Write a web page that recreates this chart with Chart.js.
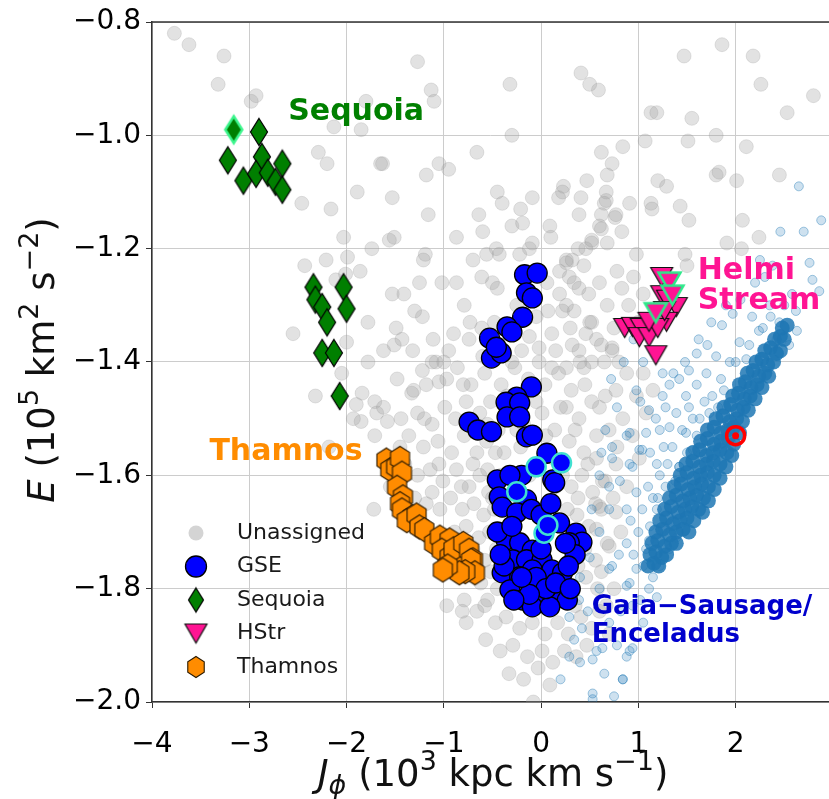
<!DOCTYPE html>
<html>
<head>
<meta charset="utf-8">
<script src="https://cdn.jsdelivr.net/npm/chart.js@4.4.0/dist/chart.umd.min.js"></script>
<style>
  html, body { margin: 0; padding: 0; background: #fff; overflow: hidden; }
  #wrap { width: 829px; height: 799px; }
</style>
</head>
<body>
<div id="wrap"><canvas id="chart" width="829" height="799"></canvas></div>
<script>
// tick values
const xTicks = [-4, -3, -2, -1, 0, 1, 2];
const yTicks = [-2.0, -1.8, -1.6, -1.4, -1.2, -1.0, -0.8];

const legendLabels = ['Unassigned', 'GSE', 'Sequoia', 'HStr', 'Thamnos'];

// grey background stars (Jphi, E)
const unassigned = [
  [-3.77,-0.82],[-3.62,-0.84],[-3.26,-0.86],[-3.32,-0.91],[-2.98,-0.94],[-2.93,-0.93],
  [-1.27,-0.87],[-1.13,-0.92],[-0.32,-0.91],[0.41,-0.89],[0.59,-0.92],[1.47,-0.86],[1.86,-0.84],[2.18,-0.86],[2.80,-0.93],
  [0.50,-0.91],[2.26,-0.91],[1.13,-0.96],[1.19,-0.96],[1.55,-0.97],[1.80,-1.00],[1.51,-1.01],[2.53,-0.96],[1.07,-1.01],
  [0.84,-1.02],[0.62,-1.03],[2.11,-1.02],[0.73,-1.05],[0.47,-1.08],[0.68,-1.07],[0.23,-1.09],[1.20,-1.08],[1.29,-1.09],
  [1.80,-1.07],[1.83,-1.065],[2.01,-1.08],[2.45,-1.07],[0.41,-1.11],[0.67,-1.10],[0.65,-1.12],[0.91,-1.12],[1.13,-1.12],
  [1.14,-1.13],[1.43,-1.125],[0.39,-1.14],[0.62,-1.14],[0.76,-1.145],[1.52,-1.15],[2.07,-1.15],[0.60,-1.16],[0.83,-1.17],
  [2.24,-1.18],[0.38,-1.20],[0.52,-1.19],[0.68,-1.19],[0.98,-1.21],[1.91,-1.19],[2.06,-1.20],[1.48,-1.21],[1.50,-1.23],
  [0.26,-1.22],[0.44,-1.23],[0.78,-1.24],
  [-2.29,-1.03],[-2.20,-1.05],[-1.63,-1.05],[-1.05,-1.05],[-0.95,-1.06],[-1.18,-1.07],[-0.66,-1.03],[-0.30,-1.00],
  [-1.89,-1.10],[-1.53,-1.11],[-2.46,-1.12],[-2.16,-1.13],[-1.16,-1.14],[-0.45,-1.10],[-0.40,-1.12],[-0.21,-1.13],
  [-0.09,-1.11],[-0.64,-1.14],[-0.30,-1.16],[-0.19,-1.155],[0.22,-1.10],[0.18,-1.11],[0.67,-1.115],[0.77,-1.14],
  [0.62,-1.165],[0.09,-1.16],[0.10,-1.18],[-2.03,-1.18],[-1.74,-1.20],[-1.56,-1.185],[-1.51,-1.18],[-0.87,-1.18],
  [-0.60,-1.17],[-2.21,-1.22],[-2.43,-1.23],[-1.99,-1.215],[-1.86,-1.24],[-2.11,-1.255],[-2.01,-1.245],[-1.19,-1.21],
  [-1.21,-1.22],[-1.25,-1.26],[-1.02,-1.26],[-0.87,-1.26],[-0.70,-1.22],[-0.56,-1.21],[-0.46,-1.20],[-0.43,-1.21],
  [-0.22,-1.21],[-0.12,-1.20],[-0.09,-1.19],[-0.61,-1.25],[-0.50,-1.26],[-0.45,-1.27],[-1.53,-1.28],[-1.41,-1.28],
  [-1.78,-1.33],[-1.49,-1.34],[-1.30,-1.31],[-1.22,-1.32],[-1.43,-1.36],[-1.51,-1.37],[-1.11,-1.36],[-2.00,-1.365],
  [-0.79,-1.30],[-0.73,-1.33],[-0.61,-1.34],[-0.74,-1.36],[-1.32,-1.38],[-0.95,-1.38],[-1.08,-1.40],
  [0.26,-1.225],[0.32,-1.22],[0.19,-1.24],[0.29,-1.25],[0.34,-1.26],[0.19,-1.28],[0.39,-1.27],[0.49,-1.28],[0.60,-1.26],
  [0.46,-1.20],[0.52,-1.185],[0.83,-1.27],[0.06,-1.26],[0.07,-1.31],[0.22,-1.31],[0.34,-1.31],[0.26,-1.30],[0.52,-1.33],
  [0.46,-1.35],[0.11,-1.35],[0.32,-1.37],[0.39,-1.38],[0.73,-1.375],[0.80,-1.40],[0.52,-1.40],[-0.02,-1.40],[0.11,-1.41],
  [0.26,-1.41],[-0.30,-1.40],[-0.02,-1.375],[-0.12,-1.355],
  [-2.13,-0.985],[-1.85,-0.99],[-1.80,-0.94],[-1.10,-0.94],[-1.65,-1.05],[-2.55,-1.35],
  [-1.84,-1.455],[-1.90,-1.475],[-1.71,-1.47],[-1.69,-1.49],[-1.33,-1.455],[-1.22,-1.415],[-1.12,-1.40],[-1.05,-1.435],
  [-1.85,-1.505],[-1.58,-1.505],
  [0.57,-1.36],[0.73,-1.38],[0.88,-1.42],[0.77,-1.45],[0.98,-1.46],[0.60,-1.48],[0.84,-1.50],[1.08,-1.49],[0.70,-1.52],
  [0.94,-1.53],[0.57,-1.57],[0.77,-1.58],[1.01,-1.57],[0.63,-1.61],[0.88,-1.62],[0.60,-1.655],[0.77,-1.665],[0.57,-1.695],
  [0.70,-1.725],
  [0.95,-1.25],[1.05,-1.28],[0.90,-1.30],[1.00,-1.33],[0.68,-1.30],[0.75,-1.34],[0.62,-1.37],[1.05,-1.42],[1.15,-1.45],[0.50,-1.33],
  [-1.48,-1.43],[-1.31,-1.45],[-1.18,-1.44],[-0.97,-1.43],[-0.86,-1.41],[-0.72,-1.44],[-0.58,-1.42],[-0.41,-1.44],
  [-0.27,-1.41],[-0.13,-1.43],[0.04,-1.44],[0.18,-1.42],[0.31,-1.45],[0.44,-1.41],
  [-1.62,-1.48],[-1.44,-1.50],[-1.27,-1.49],[-1.12,-1.51],[-0.99,-1.48],[-0.88,-1.50],[-0.77,-1.47],[-0.63,-1.49],
  [-0.52,-1.47],[-0.44,-1.52],[-0.31,-1.48],[-0.18,-1.51],[0.01,-1.49],[0.14,-1.52],[0.26,-1.48],[0.39,-1.50],[0.52,-1.47],
  [-1.71,-1.53],[-1.36,-1.53],[-1.21,-1.55],[-1.06,-1.54],[-0.92,-1.56],[-0.79,-1.53],[-0.66,-1.56],[-0.56,-1.54],
  [-0.38,-1.56],[-0.21,-1.55],[0.13,-1.57],[0.29,-1.54],[0.44,-1.56],[0.57,-1.53],
  [-1.27,-1.60],[-1.14,-1.59],[-1.01,-1.61],[-0.87,-1.59],[-0.74,-1.62],[-0.63,-1.60],[-0.54,-1.63],[-0.41,-1.60],
  [0.31,-1.62],[0.42,-1.60],[0.53,-1.63],[0.66,-1.61],
  [-1.18,-1.65],[-1.04,-1.66],[-0.93,-1.64],[-0.81,-1.66],[-0.69,-1.65],[-0.59,-1.67],[-0.48,-1.66],[0.37,-1.67],
  [0.49,-1.69],[0.62,-1.66],[0.74,-1.64],
  [-0.89,-1.70],[-0.77,-1.69],[-0.64,-1.71],[-0.53,-1.70],[-0.46,-1.73],[0.45,-1.73],[0.56,-1.75],[0.68,-1.72],
  [-0.84,-1.78],[-0.71,-1.76],[-0.62,-1.79],[-0.52,-1.77],[0.46,-1.78],[0.58,-1.80],[0.67,-1.83],
  [-0.79,-1.82],[-0.66,-1.84],[-0.55,-1.82],[-0.47,-1.86],[-0.36,-1.85],[-0.22,-1.87],[-0.09,-1.86],[0.04,-1.88],
  [0.17,-1.86],[0.28,-1.88],[0.41,-1.85],[0.52,-1.87],
  [-0.57,-1.89],[-0.42,-1.91],[-0.29,-1.90],[-0.14,-1.92],[0.01,-1.91],[0.12,-1.93],[0.24,-1.91],[0.36,-1.92],
  [-0.33,-1.95],[-0.18,-1.96],[-0.03,-1.94],[0.09,-1.97],[-0.08,-2.00],
  [-2.05,-1.42],[-2.32,-1.46],[-1.93,-1.50],[-2.18,-1.55],[-1.78,-1.40],[-1.62,-1.38],[-1.55,-1.62],[-1.72,-1.66],
  [-0.97,-1.83],[-0.81,-1.84],[-0.77,-1.86],[-0.58,-1.83],
  [-1.40,-1.58],[-1.05,-1.58],[-0.70,-1.58],[-0.47,-1.56],[-0.12,-1.60],[0.22,-1.60],[0.48,-1.58],[0.78,-1.55],
  [-1.12,-1.63],[-0.82,-1.62],[-0.50,-1.64],[0.27,-1.66],[0.56,-1.65],[0.82,-1.70],
  [-0.97,-1.72],[-0.70,-1.73],[-0.58,-1.75],[0.38,-1.76],[0.62,-1.77],[0.75,-1.80],
  [-0.90,-1.76],[-0.45,-1.80],[0.35,-1.83],[0.60,-1.84],[0.70,-1.88],[0.47,-1.90],
  [-1.20,-1.50],[-0.80,-1.44],[-0.35,-1.46],[-0.05,-1.47],[0.20,-1.48],[0.45,-1.44],[0.66,-1.46],
  [-1.00,-1.40],[-0.60,-1.39],[-0.20,-1.38],[0.15,-1.38],[0.40,-1.40],[0.65,-1.40],
  [-0.90,-1.35],[-0.48,-1.33],[-0.25,-1.30],[-0.05,-1.32],[0.30,-1.34],
  [-1.45,-1.55],[-1.30,-1.64],[-0.55,-1.51],[0.05,-1.53],[0.35,-1.52],
  [-0.25,-1.52],[-0.55,-1.59],[0.38,-1.64],[0.15,-1.62]
];

// blue halo: sparse outskirts
const haloSparse = [
  [2.65,-1.09],[2.88,-1.15],[2.76,-1.225],[2.86,-1.275],[2.63,-1.345],[2.55,-1.37],[2.17,-1.32],[1.97,-1.315],
  [1.86,-1.335],[2.24,-1.345],[2.42,-1.36],[1.71,-1.37],[1.80,-1.39],[1.60,-1.385],[2.04,-1.365],[1.94,-1.40],
  [2.11,-1.395],[1.70,-1.42],[1.52,-1.415],[1.42,-1.43],[1.32,-1.44],[1.25,-1.46],[1.49,-1.46],[1.76,-1.46],
  [1.11,-1.485],[1.39,-1.49],[1.63,-1.50],[0.91,-1.525],[1.22,-1.52],[1.49,-1.525],[0.73,-1.55],[1.04,-1.555],
  [1.35,-1.55],[0.91,-1.58],[1.19,-1.58],[1.42,-1.585],[2.62,-1.31],[2.79,-1.255],[2.50,-1.30],[2.58,-1.28],
  [2.35,-1.30],[2.30,-1.25],[2.20,-1.26],
  [0.88,-1.53],[1.01,-1.555],[0.81,-1.61],[0.98,-1.63],[1.19,-1.66],[0.70,-1.66],[0.60,-1.70],[0.88,-1.72],
  [1.11,-1.715],[1.32,-1.73],[0.50,-1.745],[0.73,-1.76],[0.98,-1.765],[1.22,-1.76],[0.60,-1.80],[0.88,-1.795],
  [1.11,-1.80],[0.39,-1.82],[0.29,-1.85],[0.42,-1.87],[0.34,-1.89],[0.63,-1.905],[0.29,-1.92],[0.53,-1.925],
  [0.88,-1.92],[0.84,-1.96],[0.53,-1.985],[0.91,-1.91],[1.04,-1.66],[1.25,-1.695],[1.39,-1.71],[1.08,-1.73],
  [1.32,-1.685],[1.42,-1.645],[1.22,-1.60],[1.42,-1.585],[1.56,-1.555],[1.08,-1.525],[1.32,-1.515],[1.56,-1.50],
  [1.73,-1.49],[0.94,-1.585],[0.73,-1.57],[0.70,-1.62],[0.88,-1.66],
  [1.19,-1.815],[0.91,-1.79],[0.70,-1.765],[0.94,-1.83],[0.57,-1.91],[0.94,-1.905],[0.53,-1.995],[0.84,-1.96],
  [0.45,-1.72],[0.52,-1.66],[0.40,-1.78],[0.33,-1.82],[0.48,-1.84],[0.60,-1.60],[0.66,-1.52],[0.78,-1.48],
  [0.72,-1.43],[0.85,-1.40],[0.95,-1.36],[1.05,-1.40],[1.15,-1.38],[1.25,-1.42],[0.98,-1.45],[0.62,-1.56],
  [1.60,-1.44],[1.85,-1.43],[1.52,-1.48],[1.30,-1.58],[1.15,-1.64],[1.00,-1.70],[1.05,-1.76],[1.28,-1.62],
  [1.02,-1.47],[1.18,-1.50],[1.28,-1.48],[1.45,-1.52],[1.60,-1.53],[1.12,-1.56],[1.26,-1.55],[1.38,-1.61],[1.50,-1.56],
  [1.10,-1.62],[1.20,-1.64],[0.92,-1.68],[1.12,-1.69],[0.80,-1.74],[0.95,-1.74],[1.15,-1.78],[1.02,-1.82],[0.82,-1.84],
  [0.70,-1.86],[0.78,-1.90],[1.05,-1.86],[0.65,-1.95],[0.75,-1.99],[0.40,-1.93],[0.20,-1.96],[1.36,-1.42],[1.48,-1.40],
  [1.62,-1.36],[1.75,-1.33],[1.90,-1.30],[2.05,-1.29],[2.38,-1.23],[2.46,-1.17],[2.70,-1.17],[2.25,-1.22],[1.68,-1.47],
  [1.82,-1.48],[1.88,-1.45],[2.00,-1.40],[2.14,-1.37],[2.28,-1.34],[2.36,-1.32],[2.45,-1.33]
];

// blue halo: dense core along the band
const haloCore = [
  [1.10,-1.76],[1.16,-1.755],[1.21,-1.76],
  [1.12,-1.74],[1.18,-1.735],[1.24,-1.745],[1.29,-1.74],
  [1.14,-1.72],[1.20,-1.715],[1.27,-1.725],[1.34,-1.72],[1.39,-1.72],
  [1.18,-1.70],[1.25,-1.695],[1.32,-1.705],[1.39,-1.70],[1.46,-1.695],[1.52,-1.70],
  [1.22,-1.68],[1.29,-1.675],[1.36,-1.685],[1.43,-1.68],[1.50,-1.675],[1.57,-1.68],
  [1.27,-1.66],[1.34,-1.655],[1.41,-1.665],[1.48,-1.66],[1.55,-1.655],[1.62,-1.66],[1.66,-1.665],
  [1.32,-1.64],[1.39,-1.635],[1.46,-1.645],[1.53,-1.64],[1.60,-1.635],[1.67,-1.64],[1.72,-1.645],
  [1.37,-1.62],[1.44,-1.615],[1.51,-1.625],[1.58,-1.62],[1.65,-1.615],[1.72,-1.62],[1.78,-1.625],
  [1.43,-1.60],[1.50,-1.595],[1.57,-1.605],[1.64,-1.60],[1.71,-1.595],[1.78,-1.60],[1.84,-1.605],
  [1.49,-1.58],[1.56,-1.575],[1.63,-1.585],[1.70,-1.58],[1.77,-1.575],[1.84,-1.58],[1.90,-1.585],
  [1.56,-1.56],[1.63,-1.555],[1.70,-1.565],[1.77,-1.56],[1.84,-1.555],[1.91,-1.56],[1.96,-1.565],
  [1.64,-1.54],[1.71,-1.535],[1.78,-1.545],[1.85,-1.54],[1.92,-1.535],[1.98,-1.545],
  [1.71,-1.52],[1.78,-1.515],[1.85,-1.525],[1.92,-1.52],[1.98,-1.515],[2.04,-1.525],
  [1.80,-1.50],[1.87,-1.495],[1.94,-1.505],[2.01,-1.50],[2.07,-1.505],
  [1.88,-1.48],[1.95,-1.475],[2.02,-1.485],[2.08,-1.48],[2.13,-1.485],
  [1.97,-1.46],[2.03,-1.455],[2.09,-1.465],[2.15,-1.46],[2.20,-1.465],
  [2.04,-1.44],[2.10,-1.435],[2.16,-1.445],[2.22,-1.44],[2.27,-1.445],
  [2.12,-1.42],[2.18,-1.415],[2.24,-1.425],[2.30,-1.42],[2.34,-1.425],
  [2.21,-1.40],[2.27,-1.395],[2.33,-1.405],[2.39,-1.40],
  [2.30,-1.38],[2.36,-1.375],[2.42,-1.385],[2.46,-1.38],
  [2.40,-1.36],[2.46,-1.355],[2.50,-1.36],
  [2.48,-1.34],[2.53,-1.335]
];

const gse = [
  [-0.17,-1.246],[-0.04,-1.243],[-0.15,-1.278],[-0.09,-1.287],[-0.19,-1.321],[-0.35,-1.338],[-0.30,-1.347],
  [-0.53,-1.358],[-0.51,-1.393],[-0.41,-1.384],[-0.46,-1.374],
  [-0.10,-1.444],[-0.25,-1.462],[-0.36,-1.471],[-0.22,-1.472],[-0.35,-1.497],[-0.22,-1.497],
  [-0.74,-1.506],[-0.65,-1.520],[-0.51,-1.523],[-0.15,-1.532],[-0.09,-1.529],
  [0.06,-1.561],[0.12,-1.608],[0.14,-1.613],
  [-0.45,-1.608],[-0.43,-1.638],[-0.40,-1.656],[-0.15,-1.643],[-0.25,-1.666],
  [0.19,-1.684],[0.36,-1.702],[0.42,-1.718],[0.29,-1.719],
  [-0.36,-1.714],[-0.22,-1.719],[-0.09,-1.732],[-0.29,-1.749],[-0.15,-1.749],[0.01,-1.749],
  [-0.40,-1.772],[-0.22,-1.779],[-0.09,-1.767],[0.11,-1.767],[0.22,-1.772],
  [-0.32,-1.802],[-0.19,-1.820],[-0.02,-1.808],[0.19,-1.815],[0.27,-1.820],[-0.09,-1.832],[0.09,-1.832],
  [-0.45,-1.70],[-0.38,-1.76],[-0.30,-1.69],[-0.05,-1.78],[0.05,-1.80],[0.15,-1.79],[-0.12,-1.81],[-0.28,-1.82],
  [0.30,-1.80],[0.35,-1.74],[0.25,-1.72],[-0.20,-1.60],[-0.32,-1.60],[-0.10,-1.66],[0.00,-1.67],[0.10,-1.65],
  [-0.42,-1.74],[0.28,-1.76],[-0.20,-1.78],[0.00,-1.73]
];
const gseMarked = [[-0.05,-1.585],[0.21,-1.578],[-0.25,-1.629],[0.03,-1.702],[0.07,-1.688]];

const sequoia = [
  [-2.90,-0.994],[-3.22,-1.044],[-3.06,-1.08],[-2.87,-1.038],[-2.93,-1.068],[-2.81,-1.066],[-2.73,-1.082],
  [-2.66,-1.05],[-2.66,-1.096],[-2.34,-1.268],[-2.32,-1.29],[-2.25,-1.303],[-2.20,-1.33],[-2.03,-1.268],
  [-2.00,-1.306],[-2.25,-1.384],[-2.13,-1.384],[-2.07,-1.46]
];
const sequoiaMarked = [[-3.16,-0.99]];

const hstr = [
  [1.24,-1.25],[1.39,-1.303],[1.29,-1.329],[0.86,-1.34],[0.94,-1.338],[1.03,-1.34],[1.01,-1.356],[1.11,-1.356],
  [1.18,-1.388],[1.24,-1.282],[1.20,-1.34],[1.11,-1.329],[1.30,-1.29],[1.27,-1.31]
];
const hstrMarked = [[1.32,-1.259],[1.35,-1.282],[1.18,-1.313]];

const thamnos = [
  [-1.59,-1.573],[-1.55,-1.59],[-1.49,-1.585],[-1.45,-1.57],[-1.43,-1.596],[-1.48,-1.621],[-1.42,-1.638],
  [-1.45,-1.65],[-1.43,-1.661],[-1.32,-1.673],[-1.38,-1.68],[-1.28,-1.67],[-1.25,-1.691],[-1.20,-1.696],
  [-1.10,-1.72],[-1.04,-1.709],[-0.94,-1.714],[-1.02,-1.732],[-0.94,-1.744],[-0.87,-1.755],[-0.90,-1.73],
  [-0.80,-1.72],[-0.74,-1.732],[-0.70,-1.749],[-0.72,-1.75],[-0.68,-1.772],[-0.78,-1.77],[-0.84,-1.772],
  [-0.96,-1.76],[-1.01,-1.767]
];

const target = [[2.0,-1.53]];

const FONT = 'DejaVu Sans';

function pts(list) {
  return list.map(p => ({ x: p[0], y: p[1] }));
}

// marker images for shapes chart.js does not have
function makeMarker(shape, w, h, fill, stroke, lw) {
  const pad = lw + 1;
  const c = document.createElement('canvas');
  c.width = Math.ceil(w + 2 * pad);
  c.height = Math.ceil(h + 2 * pad);
  const g = c.getContext('2d');
  const cx = c.width / 2, cy = c.height / 2;
  g.beginPath();
  if (shape === 'diamond') {
    g.moveTo(cx, cy - h / 2); g.lineTo(cx + w / 2, cy); g.lineTo(cx, cy + h / 2); g.lineTo(cx - w / 2, cy);
  } else if (shape === 'tri') {
    g.moveTo(cx - w / 2, cy - h / 2); g.lineTo(cx + w / 2, cy - h / 2); g.lineTo(cx, cy + h / 2);
  } else {
    for (let i = 0; i < 6; i++) {
      const a = (-90 + 60 * i) * Math.PI / 180;
      const px = cx + Math.cos(a) * w / 2, py = cy + Math.sin(a) * h / 2;
      if (i === 0) g.moveTo(px, py); else g.lineTo(px, py);
    }
  }
  g.closePath();
  g.fillStyle = fill;
  g.fill();
  g.lineWidth = lw;
  g.lineJoin = 'miter';
  g.strokeStyle = stroke;
  g.stroke();
  return c;
}

const diamondImg = makeMarker('diamond', 17, 27, '#007f00', '#000', 1.2);
const diamondHi = makeMarker('diamond', 17, 27, '#007f00', '#3cf58c', 2.5);
const triImg = makeMarker('tri', 22, 19, '#ff1493', '#111', 1.2);
const triHi = makeMarker('tri', 22, 19, '#ff1493', '#2ee88a', 2.5);
const hexImg = makeMarker('hex', 22, 24, '#ff8c00', '#2a1a00', 1.1);
const legDiamond = makeMarker('diamond', 15, 24, '#007f00', '#000', 1.2);
const legTri = makeMarker('tri', 22, 19, '#ff1493', '#111', 1.2);
const legHex = makeMarker('hex', 19, 21, '#ff8c00', '#2a1a00', 1.1);

function fmtMinus(s) { return s.replace('-', '\u2212'); }

// draws text with italic / sup / sub parts, centred at x
function drawRich(ctx, parts, x, y, size) {
  const fontFor = k => {
    const it = (k === 'i' || k === 'isub') ? 'italic ' : '';
    const sz = (k === 'sup' || k === 'isub') ? Math.round(size * 0.72) : size;
    return it + sz + 'px "' + FONT + '"';
  };
  let total = 0;
  parts.forEach(p => { ctx.font = fontFor(p[1]); total += ctx.measureText(p[0]).width; });
  let cx = x - total / 2;
  ctx.textAlign = 'left';
  ctx.textBaseline = 'alphabetic';
  parts.forEach(p => {
    ctx.font = fontFor(p[1]);
    let dy = 0;
    if (p[1] === 'sup') dy = -size * 0.42;
    if (p[1] === 'isub') dy = size * 0.22;
    ctx.fillText(p[0], cx, y + dy);
    cx += ctx.measureText(p[0]).width;
  });
}

const xTitle = [['J', 'i'], ['\u03d5', 'isub'], [' (10', ''], ['3', 'sup'], [' kpc km s', ''], ['\u22121', 'sup'], [')', '']];
const yTitle = [['E', 'i'], [' (10', ''], ['5', 'sup'], [' km', ''], ['2', 'sup'], [' s', ''], ['\u22122', 'sup'], [')', '']];

const notes = [
  { text: 'Sequoia', x: -2.60, y: -0.96, color: '#008000', size: 30 },
  { text: 'Helmi', x: 1.61, y: -1.24, color: '#ff1493', size: 30 },
  { text: 'Stream', x: 1.61, y: -1.292, color: '#ff1493', size: 30 },
  { text: 'Thamnos', x: -3.41, y: -1.559, color: '#ff8c00', size: 30 },
  { text: 'Gaia\u2212Sausage/', x: 0.52, y: -1.832, color: '#0000cd', size: 26 },
  { text: 'Enceladus', x: 0.52, y: -1.883, color: '#0000cd', size: 26 }
];

const overlay = {
  id: 'overlay',
  afterDatasetsDraw(chart) {
    const ctx = chart.ctx;
    const a = chart.chartArea;
    const xs = chart.scales.x, ys = chart.scales.y;
    ctx.save();
    // top spine
    ctx.strokeStyle = '#333';
    ctx.lineWidth = 1.5;
    ctx.beginPath();
    ctx.moveTo(a.left, a.top);
    ctx.lineTo(a.right, a.top);
    ctx.stroke();

    // annotations
    ctx.textAlign = 'left';
    ctx.textBaseline = 'middle';
    notes.forEach(n => {
      ctx.font = 'bold ' + n.size + 'px "' + FONT + '"';
      ctx.fillStyle = n.color;
      ctx.fillText(n.text, xs.getPixelForValue(n.x), ys.getPixelForValue(n.y));
    });

    // legend
    const lx = 196, ly = 533, step = 33.5;
    legendLabels.forEach((lab, i) => {
      const y = ly + i * step;
      if (i === 0) {
        ctx.fillStyle = 'rgba(170,170,170,0.5)';
        ctx.beginPath(); ctx.arc(lx, y, 7.5, 0, Math.PI * 2); ctx.fill();
      } else if (i === 1) {
        ctx.fillStyle = '#0000ff'; ctx.strokeStyle = '#000'; ctx.lineWidth = 1.3;
        ctx.beginPath(); ctx.arc(lx, y, 10.5, 0, Math.PI * 2); ctx.fill(); ctx.stroke();
      } else {
        const img = i === 2 ? legDiamond : (i === 3 ? legTri : legHex);
        ctx.drawImage(img, lx - img.width / 2, y - img.height / 2);
      }
      ctx.fillStyle = '#1a1a1a';
      ctx.font = '22px "' + FONT + '"';
      ctx.textAlign = 'left';
      ctx.textBaseline = 'middle';
      ctx.fillText(lab, 237, y);
    });

    // axis titles
    ctx.fillStyle = '#111';
    drawRich(ctx, xTitle, 493, 786, 37);
    ctx.translate(54, 360);
    ctx.rotate(-Math.PI / 2);
    drawRich(ctx, yTitle, 0, 0, 37);
    ctx.restore();
  }
};

const tickFont = { family: FONT, size: 28 };

new Chart(document.getElementById('chart'), {
  type: 'scatter',
  data: {
    datasets: [
      { label: 'target dot', data: pts(target), pointRadius: 3.5, backgroundColor: '#ff0000', borderWidth: 0, order: 0 },
      { label: 'target ring', data: pts(target), pointRadius: 9, backgroundColor: 'rgba(0,0,0,0)', borderColor: '#ff0000', borderWidth: 3.5, order: 1 },
      { label: 'HStr marked', data: pts(hstrMarked), pointStyle: triHi, pointRadius: 11, order: 2 },
      { label: 'Sequoia marked', data: pts(sequoiaMarked), pointStyle: diamondHi, pointRadius: 11, order: 3 },
      { label: 'GSE marked', data: pts(gseMarked), pointRadius: 9.5, backgroundColor: '#0000ff', borderColor: '#40e0d0', borderWidth: 2.5, order: 4 },
      { label: 'Thamnos', data: pts(thamnos), pointStyle: hexImg, pointRadius: 11, order: 5 },
      { label: 'HStr', data: pts(hstr), pointStyle: triImg, pointRadius: 11, order: 6 },
      { label: 'Sequoia', data: pts(sequoia), pointStyle: diamondImg, pointRadius: 11, order: 7 },
      { label: 'GSE', data: pts(gse), pointRadius: 10, backgroundColor: '#0000ff', borderColor: '#000', borderWidth: 1.3, order: 8 },
      { label: 'halo core', data: pts(haloCore), pointRadius: 7.5, backgroundColor: 'rgba(31,119,180,0.85)', borderWidth: 0, order: 9 },
      { label: 'halo', data: pts(haloSparse), pointRadius: 4.5, backgroundColor: 'rgba(31,119,180,0.22)', borderColor: 'rgba(31,119,180,0.4)', borderWidth: 1, order: 10 },
      { label: 'Unassigned', data: pts(unassigned), pointRadius: 7, backgroundColor: 'rgba(160,160,160,0.3)', borderColor: 'rgba(140,140,140,0.22)', borderWidth: 1, order: 11 }
    ]
  },
  options: {
    responsive: false,
    animation: false,
    devicePixelRatio: 1,
    layout: { autoPadding: false, padding: { top: 22, right: 0, left: 0, bottom: 0 } },
    plugins: { legend: { display: false }, tooltip: { enabled: false } },
    scales: {
      x: {
        type: 'linear', min: -4, max: 2.96,
        afterFit(s) { s.height = 97; s.paddingLeft = 0; s.paddingRight = 0; },
        afterBuildTicks(s) { s.ticks = xTicks.map(v => ({ value: v })); },
        ticks: { font: tickFont, color: '#000', padding: 20, callback: v => fmtMinus(String(v)) },
        grid: { color: '#cccccc', lineWidth: 1, tickColor: '#333', tickLength: 6 },
        border: { color: '#333', width: 1.5 }
      },
      y: {
        type: 'linear', min: -2.0, max: -0.8,
        afterFit(s) { s.width = 152; s.paddingTop = 0; s.paddingBottom = 0; },
        afterBuildTicks(s) { s.ticks = yTicks.map(v => ({ value: v })); },
        ticks: { font: tickFont, color: '#000', padding: 5, callback: v => fmtMinus(Number(v).toFixed(1)) },
        grid: { color: '#cccccc', lineWidth: 1, tickColor: '#333', tickLength: 6 },
        border: { color: '#333', width: 1.5 }
      }
    }
  },
  plugins: [overlay]
});
</script>
</body>
</html>
